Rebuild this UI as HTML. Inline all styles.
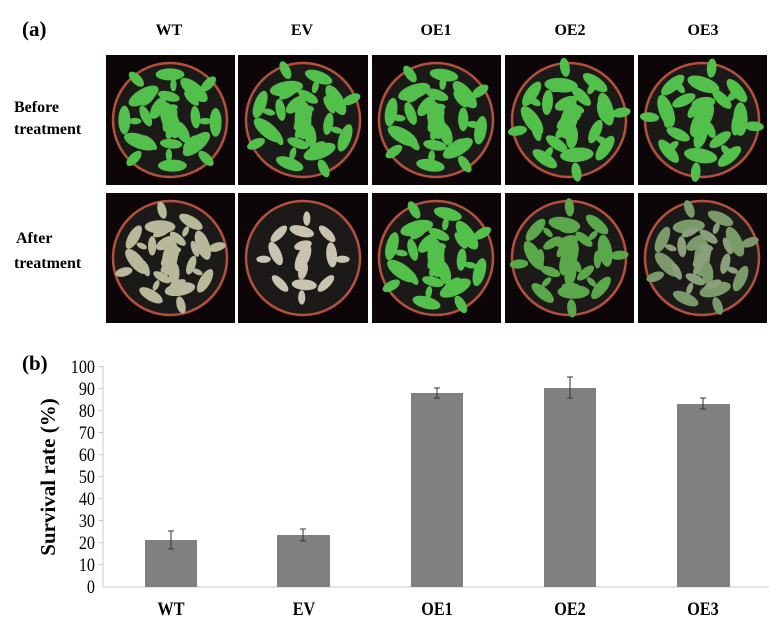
<!DOCTYPE html>
<html><head><meta charset="utf-8"><style>
body{margin:0;background:#fff}
svg{display:block}
text{font-family:"Liberation Serif",serif}
</style></head><body>
<svg width="782" height="634" viewBox="0 0 782 634" xmlns="http://www.w3.org/2000/svg">
<defs>
<g id="leafsG">
<ellipse cx="-22" cy="-20" rx="14" ry="6" transform="rotate(-30 -22 -20)"/>
<ellipse cx="20" cy="-25" rx="14" ry="6" transform="rotate(40 20 -25)"/>
<ellipse cx="-25" cy="18" rx="14" ry="6" transform="rotate(20 -25 18)"/>
<ellipse cx="22" cy="20" rx="14" ry="6" transform="rotate(-40 22 20)"/>
<ellipse cx="0" cy="0" rx="16" ry="7" transform="rotate(70)"/>
<ellipse cx="0" cy="-38" rx="12" ry="5"/>
<ellipse cx="-38" cy="0" rx="5" ry="12"/>
<ellipse cx="38" cy="2" rx="5" ry="12"/>
<ellipse cx="2" cy="38" rx="12" ry="5"/>
<ellipse cx="-10" cy="-10" rx="10" ry="5" transform="rotate(-60 -10 -10)"/>
<ellipse cx="10" cy="10" rx="10" ry="5" transform="rotate(60 10 10)"/>
<ellipse cx="-28" cy="-34" rx="8" ry="4" transform="rotate(45 -28 -34)"/>
<ellipse cx="30" cy="32" rx="8" ry="4" transform="rotate(45 30 32)"/>
<ellipse cx="-30" cy="32" rx="8" ry="4" transform="rotate(-45 -30 32)"/>
<ellipse cx="32" cy="-30" rx="8" ry="4" transform="rotate(-45 32 -30)"/>
</g>
<clipPath id="c1"><rect x="106" y="55" width="129" height="130"/></clipPath>
<clipPath id="c2"><rect x="238" y="55" width="130" height="130"/></clipPath>
<clipPath id="c3"><rect x="372" y="55" width="129" height="130"/></clipPath>
<clipPath id="c4"><rect x="505" y="55" width="129" height="130"/></clipPath>
<clipPath id="c5"><rect x="638" y="55" width="129" height="130"/></clipPath>
<clipPath id="d1"><rect x="106" y="193" width="129" height="130"/></clipPath>
<clipPath id="d2"><rect x="238" y="193" width="130" height="130"/></clipPath>
<clipPath id="d3"><rect x="372" y="193" width="129" height="130"/></clipPath>
<clipPath id="d4"><rect x="505" y="193" width="129" height="130"/></clipPath>
<clipPath id="d5"><rect x="638" y="193" width="129" height="130"/></clipPath>
</defs>
<text x="22" y="36" font-size="21" font-weight="bold">(a)</text>
<g font-size="16" font-weight="bold" text-anchor="middle">
<text x="169" y="35">WT</text><text x="302" y="35">EV</text><text x="436" y="35">OE1</text><text x="570" y="35">OE2</text><text x="703" y="35">OE3</text>
</g>
<g font-size="16" font-weight="bold">
<text x="14" y="112">Before</text><text x="14" y="134">treatment</text>
<text x="16" y="243">After</text><text x="14" y="268">treatment</text>
</g>
<g fill="#0d0608">
<rect x="106" y="55" width="129" height="130"/>
<rect x="238" y="55" width="130" height="130"/>
<rect x="372" y="55" width="129" height="130"/>
<rect x="505" y="55" width="129" height="130"/>
<rect x="638" y="55" width="129" height="130"/>
<rect x="106" y="193" width="129" height="130"/>
<rect x="238" y="193" width="130" height="130"/>
<rect x="372" y="193" width="129" height="130"/>
<rect x="505" y="193" width="129" height="130"/>
<rect x="638" y="193" width="129" height="130"/>
</g>
<g fill="#1c1a18" stroke="#b5503c" stroke-width="2.5">
<circle cx="170" cy="120" r="57"/><circle cx="303" cy="120" r="57"/><circle cx="436" cy="120" r="57"/><circle cx="569" cy="120" r="57"/><circle cx="702" cy="120" r="57"/>
<circle cx="170" cy="258" r="57"/><circle cx="303" cy="258" r="57"/><circle cx="436" cy="258" r="57"/><circle cx="569" cy="258" r="57"/><circle cx="702" cy="258" r="57"/>
</g>
<g fill="#52c04a">
<g clip-path="url(#c1)"><use href="#leafsG" transform="translate(170 120) scale(1.2)"/><use href="#leafsG" transform="translate(170 120) scale(0.8) rotate(45)"/></g>
<g clip-path="url(#c2)"><use href="#leafsG" transform="translate(303 120) scale(1.2) rotate(20)"/><use href="#leafsG" transform="translate(303 120) scale(0.8) rotate(60)"/></g>
<g clip-path="url(#c3)"><use href="#leafsG" transform="translate(436 120) scale(1.2) rotate(10)"/><use href="#leafsG" transform="translate(436 120) scale(0.85) rotate(50)"/></g>
<g clip-path="url(#c4)"><use href="#leafsG" transform="translate(569 120) scale(1.2) rotate(35)"/><use href="#leafsG" transform="translate(569 120) scale(0.9) rotate(75)"/></g>
<g clip-path="url(#c5)"><use href="#leafsG" transform="translate(702 120) scale(1.2) rotate(50)"/><use href="#leafsG" transform="translate(702 120) scale(0.9) rotate(5)"/></g>
<g clip-path="url(#d3)"><use href="#leafsG" transform="translate(436 258) scale(1.2) rotate(15)"/><use href="#leafsG" transform="translate(436 258) scale(0.8) rotate(55)"/></g>
<g clip-path="url(#d4)" fill="#5aa84a"><use href="#leafsG" transform="translate(569 258) scale(1.15) rotate(40)"/><use href="#leafsG" transform="translate(569 258) scale(0.75) rotate(0)"/></g>
<g clip-path="url(#d5)"><use href="#leafsG" transform="translate(702 258) scale(1.15) rotate(25)" fill="#7a9a6a"/><use href="#leafsG" transform="translate(702 258) scale(0.75) rotate(65)" fill="#8aa07a"/></g>
</g>
<g fill="#b8b89a">
<g clip-path="url(#d1)"><use href="#leafsG" transform="translate(170 258) scale(1.1) rotate(30)"/><use href="#leafsG" transform="translate(170 258) scale(0.7) rotate(70)"/></g>
<g clip-path="url(#d2)"><use href="#leafsG" transform="translate(303 258) scale(0.9) rotate(45)" fill="#c8c4b0"/></g>
</g>
<text x="22" y="370" font-size="21" font-weight="bold">(b)</text>
<g stroke="#c8c8c8" stroke-width="1">
<line x1="103" y1="366" x2="103" y2="587"/>
<line x1="103" y1="587" x2="769" y2="587"/>
<line x1="99" y1="366.5" x2="103" y2="366.5"/><line x1="99" y1="388.5" x2="103" y2="388.5"/><line x1="99" y1="410.5" x2="103" y2="410.5"/><line x1="99" y1="432.5" x2="103" y2="432.5"/><line x1="99" y1="454.5" x2="103" y2="454.5"/><line x1="99" y1="476.5" x2="103" y2="476.5"/><line x1="99" y1="498.5" x2="103" y2="498.5"/><line x1="99" y1="520.5" x2="103" y2="520.5"/><line x1="99" y1="542.5" x2="103" y2="542.5"/><line x1="99" y1="564.5" x2="103" y2="564.5"/>
</g>
<g font-size="19" text-anchor="end" transform="translate(95 0) scale(0.85 1) translate(-95 0)">
<text x="95" y="373">100</text><text x="95" y="395">90</text><text x="95" y="417">80</text><text x="95" y="439">70</text><text x="95" y="461">60</text><text x="95" y="483">50</text><text x="95" y="505">40</text><text x="95" y="527">30</text><text x="95" y="549">20</text><text x="95" y="571">10</text><text x="95" y="593">0</text>
</g>
<text transform="translate(55 477) rotate(-90)" font-size="21" font-weight="bold" text-anchor="middle">Survival rate (%)</text>
<g fill="#808080">
<rect x="145" y="540" width="52" height="47"/>
<rect x="277" y="535" width="53" height="52"/>
<rect x="411" y="393" width="52" height="194"/>
<rect x="544" y="388" width="52" height="199"/>
<rect x="677" y="404" width="53" height="183"/>
</g>
<g stroke="#333" stroke-width="1">
<line x1="171" y1="531" x2="171" y2="549"/><line x1="168" y1="531" x2="174" y2="531"/><line x1="168" y1="549" x2="174" y2="549"/>
<line x1="303" y1="529" x2="303" y2="541"/><line x1="300" y1="529" x2="306" y2="529"/><line x1="300" y1="541" x2="306" y2="541"/>
<line x1="437" y1="388" x2="437" y2="398"/><line x1="434" y1="388" x2="440" y2="388"/><line x1="434" y1="398" x2="440" y2="398"/>
<line x1="570" y1="377" x2="570" y2="398"/><line x1="567" y1="377" x2="573" y2="377"/><line x1="567" y1="398" x2="573" y2="398"/>
<line x1="703" y1="398" x2="703" y2="409"/><line x1="700" y1="398" x2="706" y2="398"/><line x1="700" y1="409" x2="706" y2="409"/>
</g>
<g font-size="19" font-weight="bold" text-anchor="middle">
<text transform="translate(171 615) scale(0.85 1)">WT</text><text transform="translate(304 615) scale(0.85 1)">EV</text><text transform="translate(437 615) scale(0.85 1)">OE1</text><text transform="translate(570 615) scale(0.85 1)">OE2</text><text transform="translate(703 615) scale(0.85 1)">OE3</text>
</g>
</svg>
</body></html>
